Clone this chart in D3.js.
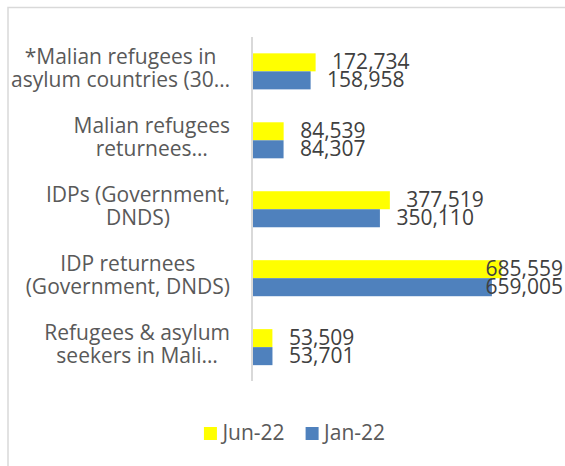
<!DOCTYPE html>
<html>
<head>
<meta charset="utf-8">
<script src="https://cdn.jsdelivr.net/npm/d3@7"></script>
<style>
  body { margin: 0; background: #fff; }
  svg text { font-family: "Open Sans", sans-serif; }
</style>
</head>
<body>
<div id="chart"></div>
<script>
// Mali displacement figures, Jan-22 vs Jun-22

const categories = ["malianRefugeesAsylum", "malianReturnees", "idps", "idpReturnees", "refugeesInMali"];
const categoryLines = [
    ["*Malian refugees in", "asylum countries (30…"],
    ["Malian refugees", "returnees…"],
    ["IDPs (Government,", "DNDS)"],
    ["IDP returnees", "(Government, DNDS)"],
    ["Refugees & asylum", "seekers in Mali…"]
];
const series = ["Jun-22", "Jan-22"];
const jun22 = [172734, 84539, 377519, 685559, 53509];
const jan22 = [158958, 84307, 350110, 659005, 53701];

const colors = {"Jun-22": "#FFFF00", "Jan-22": "#4F81BD"};

const W = 565, H = 466;
const fontSize = 21;
const labelRight = 563;   // labels get pushed back inside this edge

const svg = d3.select("#chart").append("svg")
    .attr("width", W)
    .attr("height", H);

// frame (runs past the picture on right and bottom)
svg.append("rect")
    .attr("x", 8).attr("y", 7.5)
    .attr("width", 620).attr("height", 520)
    .style("fill", "none")
    .style("stroke", "#d9d9d9")
    .style("stroke-width", 1.5);

const x = d3.scaleLinear().domain([0, 800000]).range([253, 543]);
const y = d3.scaleBand().domain(categories).range([37, 381.5])
    .paddingInner(0.4775).paddingOuter(0.237);
const ySub = d3.scaleBand().domain(series).range([0, y.bandwidth()]);

const rows = categories.map((c, i) => ({
    key: c,
    lines: categoryLines[i],
    values: [
        {s: "Jun-22", v: jun22[i]},
        {s: "Jan-22", v: jan22[i]}
    ]
}));

// bars
const groups = svg.selectAll(".cat")
    .data(rows)
    .enter().append("g")
    .attr("class", "cat")
    .attr("transform", d => `translate(0,${y(d.key)})`);

groups.selectAll("rect")
    .data(d => d.values)
    .enter().append("rect")
    .attr("x", x(0))
    .attr("y", d => ySub(d.s))
    .attr("width", d => x(d.v) - x(0))
    .attr("height", ySub.bandwidth())
    .style("fill", d => colors[d.s]);

// value labels
const fmt = d3.format(",");
groups.selectAll(".val")
    .data(d => d.values)
    .enter().append("text")
    .attr("class", "val")
    .attr("y", d => ySub(d.s) + ySub.bandwidth() / 2 + 7)
    .style("font-size", fontSize + "px")
    .style("fill", "#404040")
    .text(d => fmt(d.v))
    .attr("x", function(d) {
        const w = this.getComputedTextLength();
        let px = x(d.v) + 16.5;
        if (px + w > labelRight) px = labelRight - w;
        return px;
    });

// axis line
svg.append("line")
    .attr("x1", 252).attr("x2", 252)
    .attr("y1", 37).attr("y2", 381)
    .style("stroke", "#d9d9d9")
    .style("stroke-width", 2);

// category labels, lines centred, block right edge at 230
const lineGap = 23;
const catLabels = svg.selectAll(".catlabel")
    .data(rows)
    .enter().append("text")
    .attr("class", "catlabel")
    .style("font-size", fontSize + "px")
    .style("fill", "#595959")
    .attr("text-anchor", "middle");

catLabels.each(function(d) {
    const t = d3.select(this);
    const cy = y(d.key) + y.bandwidth() / 2;
    d.lines.forEach((ln, j) => {
        t.append("tspan")
            .attr("y", cy + (j - 0.5) * lineGap + 4.5)
            .text(ln);
    });
    const widths = [];
    t.selectAll("tspan").each(function() { widths.push(this.getComputedTextLength()); });
    const cx = 230 - d3.max(widths) / 2;
    t.selectAll("tspan").attr("x", cx);
});

// legend
const legend = svg.append("g");
let lx = 0;
series.forEach((s, i) => {
    const item = legend.append("g").attr("transform", `translate(${lx},0)`);
    item.append("rect")
        .attr("x", 0).attr("y", 427)
        .attr("width", 13).attr("height", 13)
        .style("fill", colors[s]);
    const t = item.append("text")
        .attr("x", 18.5).attr("y", 440)
        .style("font-size", fontSize + "px")
        .style("fill", "#595959")
        .text(s);
    lx += 18.5 + t.node().getComputedTextLength() + 21;
});
const legendW = lx - 21;
legend.attr("transform", `translate(${294.5 - legendW / 2},0)`);
</script>
</body>
</html>
